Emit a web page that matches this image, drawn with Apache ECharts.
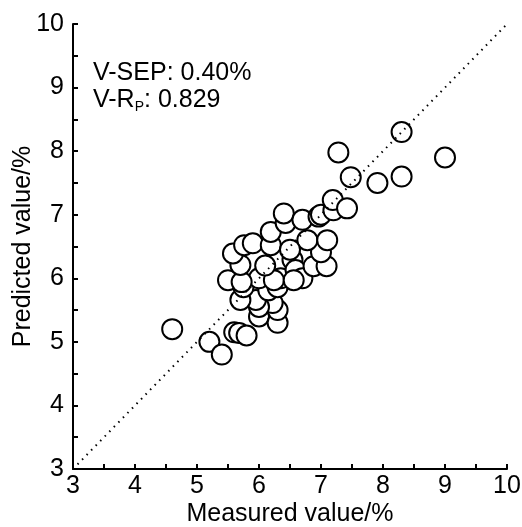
<!DOCTYPE html>
<html>
<head>
<meta charset="utf-8">
<script src="https://cdn.jsdelivr.net/npm/echarts@6/dist/echarts.min.js"></script>
<style>
html, body { margin: 0; padding: 0; background: #fff; }
#main { width: 522px; height: 527px; }
</style>
</head>
<body>
<div id="main"></div>
<script>
// measured values (x) and predicted values (y)
let measured = [
	4.6, 5.2, 5.4, 5.6, 5.68, 5.8, 6.0, 6.3, 6.3, 6.22,
	6.0, 5.95, 5.7, 5.75, 6.15, 6.3, 6.35, 6.0, 5.5, 5.72,
	5.7, 5.58, 5.76, 5.9, 6.19, 6.19, 6.43, 6.4, 6.7, 6.54,
	6.59, 6.7, 6.88, 7.09, 7.0, 6.78, 7.1, 6.96, 7.0, 7.2,
	7.19, 7.42, 7.48, 7.28, 7.91, 8.3, 8.3, 9.0, 6.24, 6.56,
	6.5, 6.1
]
let predicted = [
	5.2, 5.0, 4.8, 5.15, 5.14, 5.1, 5.4, 5.3, 5.5, 5.61,
	5.55, 5.66, 5.66, 5.86, 5.81, 5.86, 6.0, 6.0, 5.97, 5.94,
	6.21, 6.39, 6.52, 6.55, 6.52, 6.73, 6.87, 7.02, 6.92, 6.29,
	6.13, 6.0, 6.19, 6.19, 6.41, 6.6, 6.6, 6.97, 7.0, 7.07,
	7.23, 7.1, 7.59, 7.98, 7.5, 7.6, 8.3, 7.9, 5.97, 5.97,
	6.45, 6.2
]
let axisMin = 3
let axisMax = 10
let refLine = [[3, 3], [10, 10]]

let myChart = echarts.init(document.getElementById('main'))

let points = []
for (let i = 0; i < measured.length; i++) {
	points.push([measured[i], predicted[i]])
}

let fontName = 'Liberation Sans, Arial, sans-serif'

let axisCommon = {
	type: 'value',
	min: axisMin,
	max: axisMax,
	interval: 1,
	splitLine: { show: false },
	axisLine: { show: true, onZero: false, lineStyle: { color: '#000', width: 2 } },
	axisTick: { show: true, inside: true, length: 5, lineStyle: { color: '#000', width: 2 } },
	minorTick: { show: true, splitNumber: 2, length: 5, lineStyle: { color: '#000', width: 2 } },
	axisLabel: { color: '#000', fontSize: 25, fontFamily: fontName },
	nameTextStyle: { color: '#000', fontSize: 25, fontFamily: fontName },
	nameLocation: 'middle',
	nameMoveOverlap: false
}

let option = {
	animation: false,
	backgroundColor: '#fff',
	title: {
		left: 88,
		top: 55,
		text: 'V-SEP: 0.40%\nV-R{sub|P}: 0.829',
		textStyle: {
			color: '#000',
			fontSize: 25,
			fontWeight: 'normal',
			fontFamily: fontName,
			lineHeight: 27,
			rich: {
				sub: { fontSize: 14, verticalAlign: 'bottom', padding: [12, 0, 0, 0], fontFamily: fontName, color: '#000' }
			}
		}
	},
	grid: { left: 73, right: 15, top: 24, bottom: 58, outerBoundsMode: 'none', containLabel: false },
	xAxis: Object.assign({}, axisCommon, {
		name: 'Measured value/%',
		nameGap: 33,
		axisLabel: Object.assign({}, axisCommon.axisLabel, { margin: 5 })
	}),
	yAxis: Object.assign({}, axisCommon, {
		name: 'Predicted value/%',
		nameGap: 37,
		axisLabel: Object.assign({}, axisCommon.axisLabel, { margin: 9 })
	}),
	series: [
		{
			type: 'scatter',
			data: points,
			symbol: 'circle',
			symbolSize: 20,
			itemStyle: { color: '#fff', borderColor: '#000', borderWidth: 2, opacity: 1 },
			z: 2
		},
		{
			type: 'line',
			data: refLine,
			symbol: 'none',
			lineStyle: { color: '#000', width: 2, type: [1.5, 5] },
			z: 3
		}
	]
}

myChart.setOption(option)
</script>
</body>
</html>
